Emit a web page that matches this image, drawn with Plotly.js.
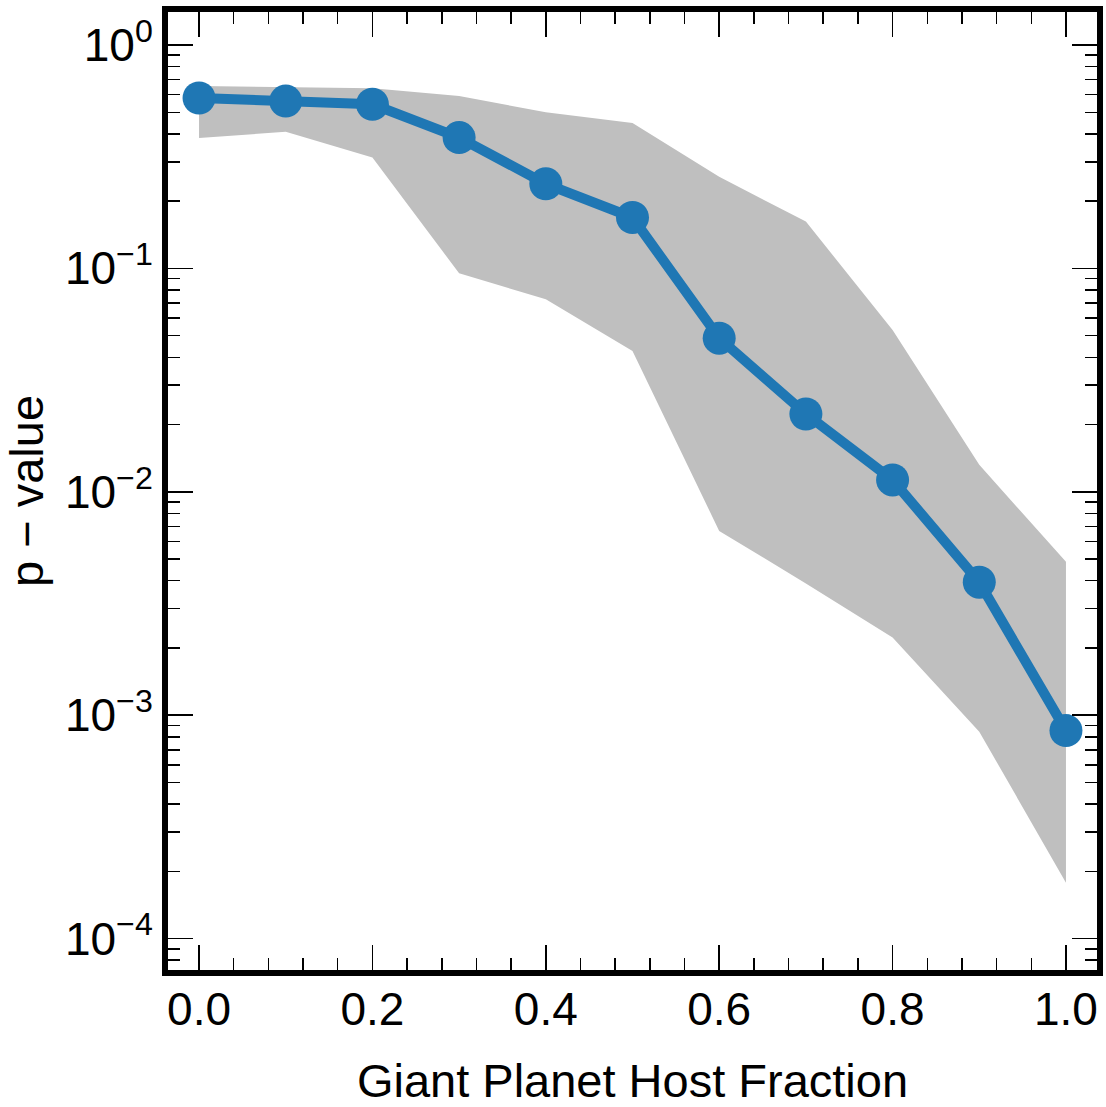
<!DOCTYPE html>
<html>
<head>
<meta charset="utf-8">
<script src="https://cdn.plot.ly/plotly-3.0.1.min.js"></script>
<style>html,body{margin:0;padding:0;background:#fff;}#chart{width:1106px;height:1107px;}</style>
</head>
<body>
<div id="chart"></div>
<script>
// Data
const hostFraction = [0.0, 0.1, 0.2, 0.3, 0.4, 0.5, 0.6, 0.7, 0.8, 0.9, 1.0];
const pValue = [0.579, 0.561, 0.543, 0.385, 0.239, 0.169, 0.0487, 0.0223, 0.0113, 0.00394, 0.000853];
const pUpper = [0.655, 0.649, 0.640, 0.591, 0.500, 0.447, 0.257, 0.162, 0.0530, 0.0132, 0.00486];
const pLower = [0.383, 0.409, 0.314, 0.0951, 0.0727, 0.0427, 0.00668, 0.00389, 0.00223, 0.000844, 0.000178];
const yTickVals = [1, 0.1, 0.01, 0.001, 0.0001];
const yTickText = ['10<sup>0</sup>', '10<sup>\u22121</sup>', '10<sup>\u22122</sup>', '10<sup>\u22123</sup>', '10<sup>\u22124</sup>'];

const yMinor = [];
for (let e = -5; e <= 0; e++) {
  for (let m = 2; m <= 9; m++) yMinor.push(m * Math.pow(10, e));
}

const font = 'Liberation Sans, Arial, Helvetica, sans-serif';

const traces = [
  {x: hostFraction, y: pLower, mode: 'lines', line: {width: 0, color: 'rgba(0,0,0,0)'}, hoverinfo: 'skip', showlegend: false},
  {x: hostFraction, y: pUpper, mode: 'lines', line: {width: 0, color: 'rgba(0,0,0,0)'}, fill: 'tonexty', fillcolor: '#bfbfbf', hoverinfo: 'skip', showlegend: false},
  {x: hostFraction, y: pValue, mode: 'lines+markers', line: {color: '#1f77b4', width: 10}, marker: {color: '#1f77b4', size: 33}, showlegend: false}
];

const layout = {
  width: 1106, height: 1107,
  margin: {l: 168, r: 9, t: 12, b: 137},
  paper_bgcolor: '#ffffff', plot_bgcolor: '#ffffff',
  font: {family: font, color: '#000', size: 46},
  showlegend: false,
  xaxis: {
    range: [-0.0358, 1.0358],
    tickmode: 'linear', tick0: 0, dtick: 0.2, tickformat: '.1f',
    ticks: 'inside', ticklen: 25, tickwidth: 1.5, tickcolor: '#000',
    minor: {ticks: 'inside', dtick: 0.04, tick0: 0, ticklen: 12, tickwidth: 1.5, tickcolor: '#000'},
    showline: true, linewidth: 6, linecolor: '#000', mirror: 'allticks',
    showgrid: false, zeroline: false,
    tickfont: {size: 46, family: font},
    ticklabelstandoff: -6,
    title: {text: 'Giant Planet Host Fraction', font: {size: 47, family: font}, standoff: 32}
  },
  yaxis: {
    type: 'log',
    range: [-4.1406, 0.1477],
    tickmode: 'array', tickvals: yTickVals, ticktext: yTickText,
    ticks: 'inside', ticklen: 25, tickwidth: 1.5, tickcolor: '#000',
    minor: {ticks: 'inside', tickmode: 'array', tickvals: yMinor, ticklen: 12, tickwidth: 1.5, tickcolor: '#000'},
    showline: true, linewidth: 6, linecolor: '#000', mirror: 'allticks',
    showgrid: false, zeroline: false,
    tickfont: {size: 46, family: font},
    ticklabelstandoff: 0,
    title: {text: 'p \u2212 value', font: {size: 47, family: font}, standoff: 22}
  }
};

Plotly.newPlot('chart', traces, layout, {staticPlot: true});
</script>
</body>
</html>
